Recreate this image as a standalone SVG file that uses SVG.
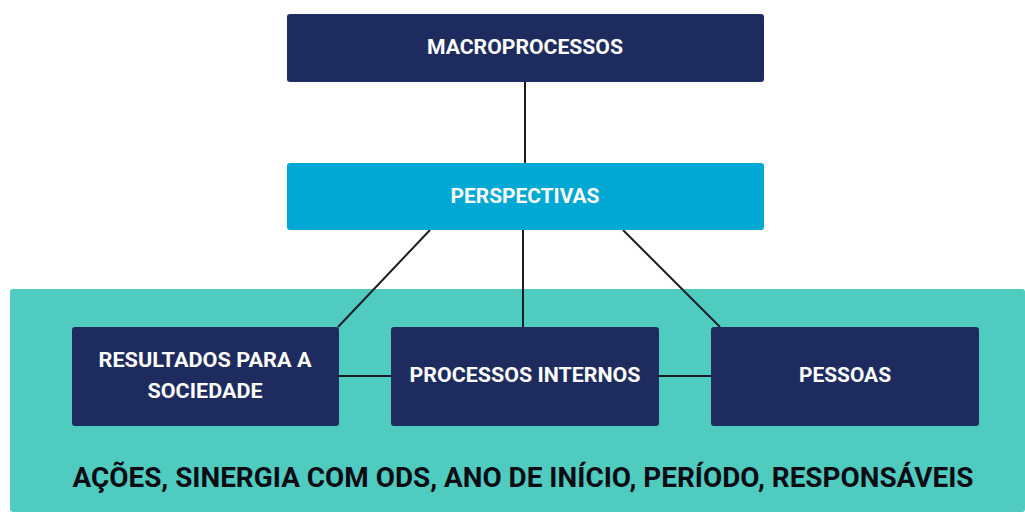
<svg xmlns="http://www.w3.org/2000/svg" width="1025" height="512" viewBox="0 0 1025 512">
<style>
.navy{fill:#1e2b5e}
.lbl{font-family:Roboto,"Open Sans","Liberation Sans",sans-serif;font-weight:bold;font-size:21px;fill:#ffffff;text-anchor:middle}
.bottom{font-family:Roboto,"Open Sans","Liberation Sans",sans-serif;font-weight:bold;font-size:28px;fill:#0b0b14;text-anchor:middle}
.conn line{stroke:#1c1c24;stroke-width:2}
</style>
<rect x="0" y="0" width="1025" height="512" fill="#ffffff"/>
<rect id="panel" x="10" y="289" width="1015" height="223" fill="#50cbc0" rx="3"/>
<g id="connectors" class="conn">
<line x1="525" y1="82" x2="525" y2="163"/>
<line x1="430" y1="230" x2="338" y2="327"/>
<line x1="523" y1="230" x2="523" y2="327"/>
<line x1="623" y1="230" x2="720" y2="327"/>
<line x1="339" y1="376" x2="391" y2="376"/>
<line x1="659" y1="376" x2="711" y2="376"/>
</g>
<g id="macroprocessos">
<rect class="navy" x="287" y="14" width="477" height="68" rx="3"/>
<text class="lbl" x="525" y="54" textLength="196" lengthAdjust="spacingAndGlyphs">MACROPROCESSOS</text>
</g>
<g id="perspectivas">
<rect x="287" y="163" width="477" height="67" rx="3" fill="#00a8d4"/>
<text class="lbl" x="525" y="203" textLength="149" lengthAdjust="spacingAndGlyphs">PERSPECTIVAS</text>
</g>
<g id="resultados">
<rect class="navy" x="72" y="327" width="267" height="99" rx="3"/>
<text class="lbl" x="205" y="367" textLength="213" lengthAdjust="spacingAndGlyphs">RESULTADOS PARA A</text>
<text class="lbl" x="205" y="398" textLength="115" lengthAdjust="spacingAndGlyphs">SOCIEDADE</text>
</g>
<g id="processos">
<rect class="navy" x="391" y="327" width="268" height="99" rx="3"/>
<text class="lbl" x="525" y="382" textLength="231" lengthAdjust="spacingAndGlyphs">PROCESSOS INTERNOS</text>
</g>
<g id="pessoas">
<rect class="navy" x="711" y="327" width="268" height="99" rx="3"/>
<text class="lbl" x="845" y="382" textLength="92" lengthAdjust="spacingAndGlyphs">PESSOAS</text>
</g>
<text id="footer" class="bottom" x="523" y="487" textLength="901" lengthAdjust="spacingAndGlyphs">AÇÕES, SINERGIA COM ODS, ANO DE INÍCIO, PERÍODO, RESPONSÁVEIS</text>
</svg>
